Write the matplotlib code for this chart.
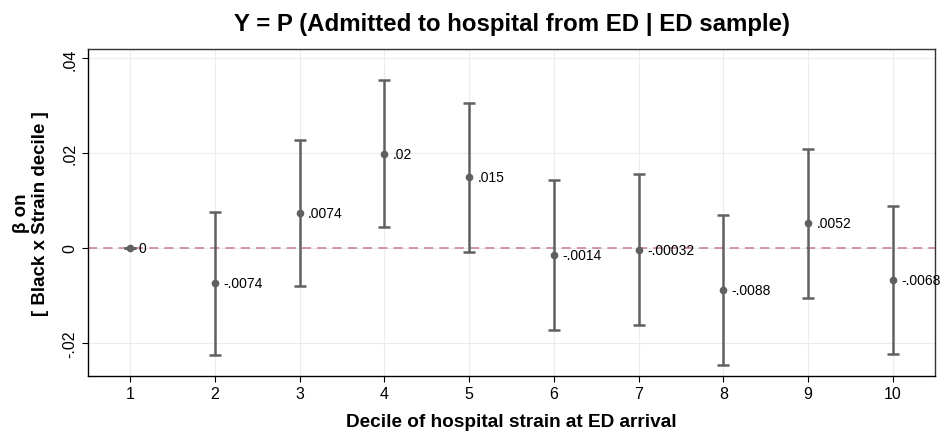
import matplotlib
matplotlib.use("Agg")
import matplotlib.pyplot as plt
from matplotlib.ticker import FuncFormatter

plt.rcParams["font.family"] = ["Liberation Sans", "DejaVu Sans"]

deciles = [1, 2, 3, 4, 5, 6, 7, 8, 9, 10]
coefs = [0.0, -0.0074, 0.0074, 0.0199, 0.0149, -0.0014, -0.00032, -0.0088, 0.0052, -0.0068]
ci_low = [0.0, -0.0225, -0.0080, 0.0045, -0.0008, -0.0172, -0.0163, -0.0246, -0.0105, -0.0223]
ci_high = [0.0, 0.0077, 0.0227, 0.0354, 0.0307, 0.0144, 0.0157, 0.0070, 0.0208, 0.0088]
labels = ["0", "-.0074", ".0074", ".02", ".015", "-.0014", "-.00032", "-.0088", ".0052", "-.0068"]
yticks = [-0.02, 0, 0.02, 0.04]


def stata_fmt(v, pos=None):
    if abs(v) < 1e-12:
        return "0"
    s = ("%g" % v).replace("0.", ".")
    return s


def main():
    fig = plt.figure(figsize=(9.42, 4.39), dpi=100)
    ax = fig.add_axes([0.0934, 0.1412, 0.8992, 0.7449])

    ax.axhline(0, color="#c8789c", lw=1.1, ls=(0, (6, 4)), zorder=1)

    err_lo = [c - l for c, l in zip(coefs, ci_low)]
    err_hi = [h - c for c, h in zip(coefs, ci_high)]
    ax.errorbar(deciles, coefs, yerr=[err_lo, err_hi], fmt="o", color="#606060",
                ms=4.5, elinewidth=1.8, capsize=4.5, capthick=1.8, zorder=3)

    for x, y, t in zip(deciles, coefs, labels):
        ax.annotate(t, (x, y), xytext=(6, 0), textcoords="offset points",
                    ha="left", va="center", fontsize=10, color="black")

    ax.set_xlim(0.5, 10.5)
    ax.set_ylim(-0.027, 0.042)
    ax.set_xticks(deciles)
    ax.set_yticks(yticks)
    ax.yaxis.set_major_formatter(FuncFormatter(stata_fmt))
    ax.tick_params(axis="both", labelsize=11.5, length=4, color="black")
    for lab in ax.get_yticklabels():
        lab.set_rotation(90)
        lab.set_va("center")

    ax.grid(True, color="#ececec", lw=0.8)
    ax.set_axisbelow(True)
    for side in ["top", "right"]:
        ax.spines[side].set_color("#333333")
        ax.spines[side].set_linewidth(1.0)
    for side in ["left", "bottom"]:
        ax.spines[side].set_color("black")
        ax.spines[side].set_linewidth(1.0)

    ax.set_xlabel("Decile of hospital strain at ED arrival", fontsize=13.7,
                  fontweight="bold", labelpad=8)
    ax.set_ylabel("β on\n[ Black x Strain decile ]", fontsize=13.5,
                  fontweight="bold", labelpad=10, linespacing=1.15)
    ax.set_title("Y = P (Admitted to hospital from ED | ED sample)", fontsize=17.3,
                 fontweight="bold", pad=14)

    fig.savefig("out.png", dpi=100)


if __name__ == "__main__":
    main()
